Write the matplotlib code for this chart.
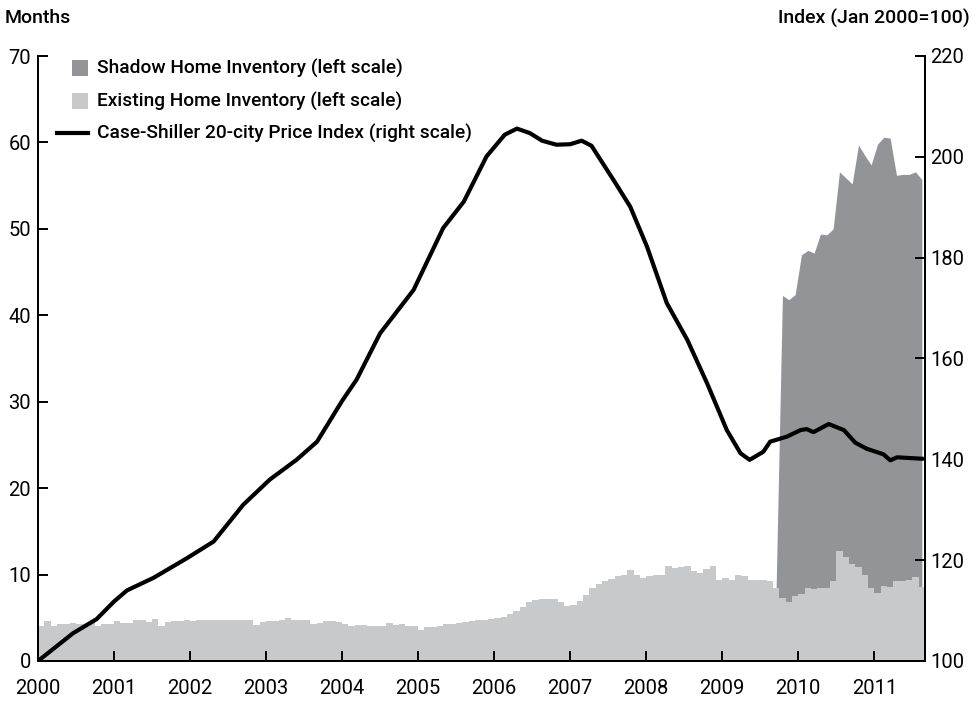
import numpy as np
import matplotlib.pyplot as plt
from matplotlib.patches import Rectangle
from matplotlib.lines import Line2D

plt.rcParams['font.family'] = ['Roboto', 'DejaVu Sans']

# existing home inventory, months of supply, monthly Jan 2000 - Aug 2011
existing = [
    4.1, 4.6, 4.1, 4.3, 4.3, 4.4, 4.3, 4.3, 4.6, 4.1, 4.3, 4.3,   # 2000
    4.6, 4.4, 4.4, 4.8, 4.8, 4.5, 4.9, 4.1, 4.5, 4.6, 4.6, 4.7,   # 2001
    4.6, 4.8, 4.8, 4.7, 4.8, 4.8, 4.7, 4.8, 4.8, 4.8, 4.2, 4.5,   # 2002
    4.6, 4.6, 4.7, 5.0, 4.8, 4.7, 4.7, 4.3, 4.4, 4.6, 4.6, 4.5,   # 2003
    4.3, 4.1, 4.2, 4.2, 4.1, 4.0, 4.1, 4.4, 4.2, 4.3, 4.1, 4.0,   # 2004
    3.6, 3.9, 3.9, 4.1, 4.3, 4.3, 4.4, 4.5, 4.6, 4.7, 4.8, 4.9,   # 2005
    5.0, 5.1, 5.4, 5.8, 6.3, 6.8, 7.1, 7.2, 7.2, 7.2, 6.8, 6.4,   # 2006
    6.5, 6.9, 7.6, 8.5, 8.9, 9.3, 9.5, 9.8, 10.0, 10.5, 10.0, 9.6,  # 2007
    9.8, 9.9, 10.0, 11.0, 10.8, 10.9, 11.0, 10.4, 10.2, 10.6, 11.0, 9.4,  # 2008
    9.6, 9.4, 10.0, 9.8, 9.4, 9.4, 9.4, 9.2, 8.4, 7.3, 6.8, 7.5,   # 2009
    7.8, 8.4, 8.3, 8.5, 8.5, 9.2, 12.7, 12.0, 11.2, 10.9, 9.9, 8.5,  # 2010
    7.9, 8.7, 8.6, 9.25, 9.25, 9.4, 9.75, 8.6,                     # 2011
]

# shadow home inventory (total months), monthly Sep 2009 - Aug 2011
shadow = [
    8.4, 42.3, 41.8, 42.4,
    47.0, 47.5, 47.2, 49.4, 49.3, 50.0, 56.6, 55.9, 55.2, 59.7, 58.5, 57.4,
    59.8, 60.6, 60.5, 56.2, 56.3, 56.3, 56.6, 55.7,
]

# Case-Shiller 20-city index
price_t = [2000.00, 2000.46, 2000.77, 2001.00, 2001.17, 2001.52, 2001.96, 2002.31,
           2002.70, 2003.05, 2003.40, 2003.67, 2004.00, 2004.19, 2004.50, 2004.94,
           2005.33, 2005.60, 2005.90, 2006.14, 2006.30, 2006.47, 2006.63, 2006.82,
           2007.00, 2007.15, 2007.28, 2007.57, 2007.79, 2008.01, 2008.27, 2008.54,
           2008.80, 2009.06, 2009.24, 2009.36, 2009.54, 2009.63, 2009.85, 2010.03,
           2010.11, 2010.20, 2010.40, 2010.60, 2010.75, 2010.90, 2011.12, 2011.21,
           2011.30, 2011.65]
price_v = [100.0, 105.5, 108.3, 111.8, 114.0, 116.5, 120.4, 123.7,
           131.0, 136.0, 139.9, 143.5, 151.6, 155.8, 165.0, 173.6,
           185.9, 191.1, 200.1, 204.4, 205.6, 204.7, 203.2, 202.4,
           202.5, 203.2, 202.2, 195.4, 190.1, 182.2, 171.0, 163.7,
           155.1, 145.8, 141.2, 139.9, 141.5, 143.5, 144.5, 145.8,
           146.0, 145.4, 147.0, 145.8, 143.3, 142.1, 141.0, 139.8,
           140.4, 140.1]

years = list(range(2000, 2012))

dark = '#939498'
light = '#c8c9cb'

fig = plt.figure(figsize=(9.76, 7.03), dpi=100)
ax = fig.add_axes([38/976, 42/703, (925-38)/976, (661-56)/703])
ax2 = ax.twinx()

edges = 2000 + np.arange(len(existing) + 1) / 12
shadow_x = 2009 + 8.5/12 + np.arange(len(shadow)) / 12

ax.fill_between(shadow_x, 0, shadow, color=dark, lw=0)
ax.stairs(existing, edges, fill=True, color=light, lw=0)
ax2.plot(price_t, price_v, color='black', lw=3, solid_capstyle='butt')

ax.set_xlim(2000, edges[-1])
ax.set_ylim(0, 70)
ax2.set_ylim(100, 220)
ax.set_yticks(range(0, 71, 10))
ax2.set_yticks(range(100, 221, 20))
ax.set_xticks(years)
ax.set_xticklabels([str(y) for y in years])

for a in (ax, ax2):
    a.spines['top'].set_visible(False)
    for s in a.spines.values():
        s.set_linewidth(1.4)
    a.tick_params(direction='in', length=7, width=1.4, labelsize=14.5, pad=4)
ax.tick_params(axis='x', pad=13)
ax.tick_params(axis='y', pad=5)

fig.text(5/976, 1 - 18/703, 'Months', fontsize=14, fontweight='medium', va='center', ha='left')
fig.text(970/976, 1 - 18/703, 'Index (Jan 2000=100)', fontsize=14, fontweight='medium', va='center', ha='right')

# legend
rows = [(68, 'Shadow Home Inventory (left scale)', dark),
        (101, 'Existing Home Inventory (left scale)', light),
        (133, 'Case-Shiller 20-city Price Index (right scale)', None)]
for y, label, col in rows:
    yf = 1 - y/703
    if col is None:
        fig.add_artist(Line2D([57/976, 88/976], [yf, yf], color='black', lw=3))
    else:
        fig.add_artist(Rectangle((72/976, yf - 8/703), 16/976, 16/703, color=col, lw=0))
    fig.text(97/976, yf, label, fontsize=13.8, fontweight='medium', va='center', ha='left')

fig.savefig('out.png', dpi=100)
